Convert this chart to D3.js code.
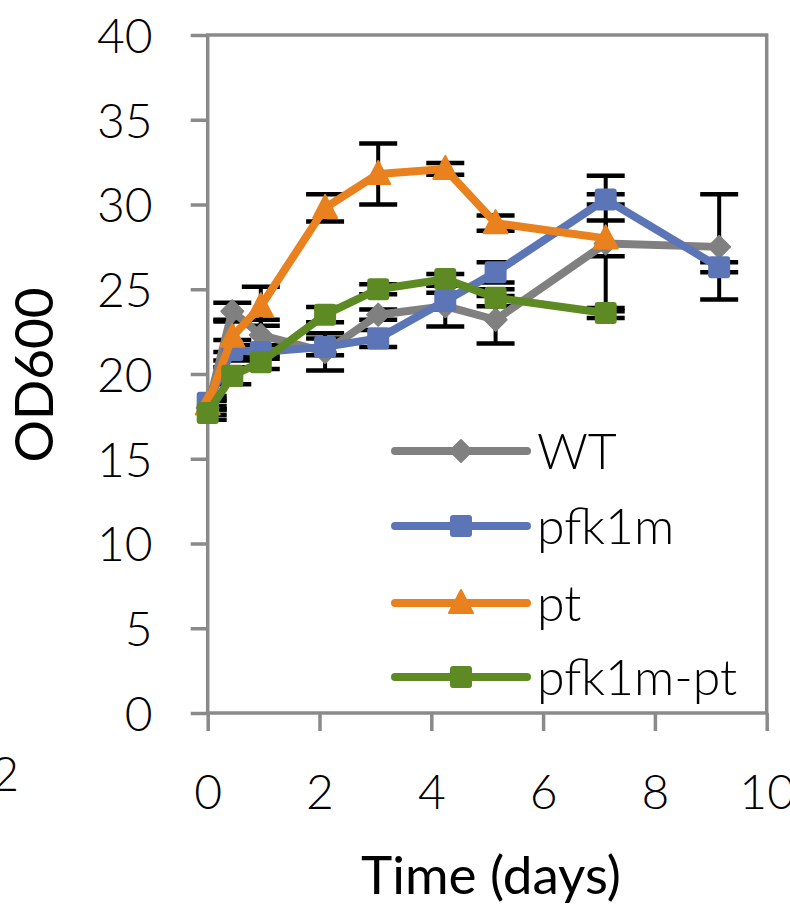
<!DOCTYPE html>
<html>
<head>
<meta charset="utf-8">
<script src="https://cdn.jsdelivr.net/npm/d3@7/dist/d3.min.js"></script>
<style>
  html, body { margin: 0; padding: 0; background: #fff; }
  svg { display: block; }
  text { font-family: Lato, "Open Sans", sans-serif; fill: #000; }
</style>
</head>
<body>
<svg id="chart" width="790" height="905"></svg>
<script>
// ---- data ----
const timeLong  = [0, 0.44, 0.95, 2.1, 3.05, 4.25, 5.15, 7.12, 9.15];
const timeShort = [0, 0.44, 0.95, 2.1, 3.05, 4.25, 5.15, 7.12];

const seriesNames = ["WT", "pfk1m", "pt", "pfk1m-pt"];

const wtValues      = [18.0, 23.7, 22.3, 21.3, 23.5, 24.0, 23.2, 27.7, 27.5];
const wtErrors      = [0.4, 0.5, 0.9, 1.1, 0.3, 1.2, 1.4, 4.0, 3.1];
const pfk1mValues   = [18.3, 21.4, 21.3, 21.6, 22.1, 24.3, 26.0, 30.3, 26.3];
const pfk1mErrors   = [0.4, 0.6, 0.4, 0.5, 0.5, 0.5, 0.6, 0.3, 0.3];
const ptValues      = [18.2, 22.2, 24.0, 29.8, 31.8, 32.1, 28.9, 28.0];
const ptErrors      = [0.3, 0.9, 1.15, 0.8, 1.8, 0.35, 0.45, 1.05];
const pfk1mPtValues = [17.7, 19.9, 20.7, 23.5, 25.0, 25.6, 24.5, 23.6];
const pfk1mPtErrors = [0.4, 0.5, 0.4, 0.45, 0.3, 0.3, 0.5, 0.3];

const yTicks = [0, 5, 10, 15, 20, 25, 30, 35, 40];
const xTicks = [0, 2, 4, 6, 8, 10];

// ---- build table ----
const series = [
  { name: seriesNames[0], t: timeLong,  v: wtValues,      e: wtErrors,      color: "#808080", marker: "diamond" },
  { name: seriesNames[1], t: timeLong,  v: pfk1mValues,   e: pfk1mErrors,   color: "#5B75B7", marker: "square" },
  { name: seriesNames[2], t: timeShort, v: ptValues,      e: ptErrors,      color: "#E8811E", marker: "triangle" },
  { name: seriesNames[3], t: timeShort, v: pfk1mPtValues, e: pfk1mPtErrors, color: "#5D8A22", marker: "square" }
];
series.forEach(s => { s.points = s.t.map((t, i) => ({ t, v: s.v[i], e: s.e[i] })); });

// ---- layout ----
const svg = d3.select("#chart");
const pLeft = 207.7, pRight = 766.7, pTop = 35, pBottom = 713;
const x = d3.scaleLinear().domain([0, 10]).range([pLeft, pRight]);
const y = d3.scaleLinear().domain([0, 40]).range([pBottom, pTop]);
const axisColor = "#8a8a8a";
const fontSize = 48;

svg.append("defs").append("clipPath").attr("id", "plotClip")
  .append("rect").attr("x", pLeft).attr("y", 0).attr("width", pRight - pLeft).attr("height", 905);

// ---- axes ----
const yAxis = svg.append("g").attr("transform", `translate(${pLeft},0)`)
  .call(d3.axisLeft(y).tickValues(yTicks).tickSize(17).tickPadding(38).tickFormat(d3.format("d")));
const xAxis = svg.append("g").attr("transform", `translate(0,${pBottom})`)
  .call(d3.axisBottom(x).tickValues(xTicks).tickSize(18).tickPadding(44).tickFormat(d3.format("d")));
[yAxis, xAxis].forEach(g => {
  g.select(".domain").remove();
  g.selectAll(".tick line").attr("stroke", axisColor).attr("stroke-width", 3.5);
  g.selectAll(".tick text").style("font-size", fontSize + "px").attr("fill", "#000")
    .style("font-family", "Lato, sans-serif").style("font-weight", 300);
});
yAxis.selectAll(".tick text").attr("dy", "0.36em");
xAxis.selectAll(".tick text").attr("dy", "0.71em");

// plot area border
svg.append("rect").attr("x", pLeft).attr("y", pTop)
  .attr("width", pRight - pLeft).attr("height", pBottom - pTop)
  .attr("fill", "none").attr("stroke", axisColor).attr("stroke-width", 3.5);

// partial label of the neighbouring panel at the far left
svg.append("text").attr("x", 19).attr("y", y(0) + 44).attr("dy", "0.71em")
  .attr("text-anchor", "end").style("font-size", fontSize + "px").style("font-weight", 300).text("12");

// axis titles
svg.append("text").attr("transform", `translate(53,375) rotate(-90)`)
  .attr("text-anchor", "middle").style("font-size", "53px").text("OD600");
svg.append("text").attr("x", 491).attr("y", 894)
  .attr("text-anchor", "middle").style("font-size", "53px").text("Time (days)");

// ---- error bars ----
const errG = svg.append("g").attr("clip-path", "url(#plotClip)");
const capW = 19;
series.forEach(s => {
  s.points.forEach(p => {
    const cx = x(p.t), y1 = y(p.v + p.e), y2 = y(p.v - p.e);
    errG.append("line").attr("x1", cx).attr("x2", cx).attr("y1", y1).attr("y2", y2)
      .attr("stroke", "#000").attr("stroke-width", 4);
    [y1, y2].forEach(yy => errG.append("line")
      .attr("x1", cx - capW).attr("x2", cx + capW).attr("y1", yy).attr("y2", yy)
      .attr("stroke", "#000").attr("stroke-width", 4.5));
  });
});

// ---- markers ----
function drawMarker(g, type, cx, cy, color) {
  if (type === "square") {
    g.append("rect").attr("x", cx - 11).attr("y", cy - 11).attr("width", 22).attr("height", 22)
      .attr("rx", 3).attr("fill", color);
  } else if (type === "diamond") {
    g.append("path").attr("d", `M${cx},${cy - 11} L${cx + 11},${cy} L${cx},${cy + 11} L${cx - 11},${cy} Z`)
      .attr("fill", color).attr("stroke", color).attr("stroke-width", 2).attr("stroke-linejoin", "round");
  } else {
    g.append("path").attr("d", `M${cx},${cy - 13} L${cx + 12},${cy + 10} L${cx - 12},${cy + 10} Z`)
      .attr("fill", color).attr("stroke", color).attr("stroke-width", 2).attr("stroke-linejoin", "round");
  }
}

const line = d3.line().x(d => x(d.t)).y(d => y(d.v));
series.forEach(s => {
  const g = svg.append("g");
  g.append("path").datum(s.points).attr("d", line).attr("fill", "none")
    .attr("stroke", s.color).attr("stroke-width", 8)
    .attr("stroke-linejoin", "round").attr("stroke-linecap", "round");
  s.points.forEach(p => drawMarker(g, s.marker, x(p.t), y(p.v), s.color));
});

// ---- legend ----
const legendY = [451, 526, 603, 677];
series.forEach((s, i) => {
  const g = svg.append("g");
  g.append("line").attr("x1", 395).attr("x2", 527).attr("y1", legendY[i]).attr("y2", legendY[i])
    .attr("stroke", s.color).attr("stroke-width", 8).attr("stroke-linecap", "round");
  drawMarker(g, s.marker, 461, legendY[i], s.color);
  g.append("text").attr("x", 537).attr("y", legendY[i]).attr("dy", "0.36em")
    .style("font-size", "50px").style("font-weight", 300).text(s.name);
});
</script>
</body>
</html>
